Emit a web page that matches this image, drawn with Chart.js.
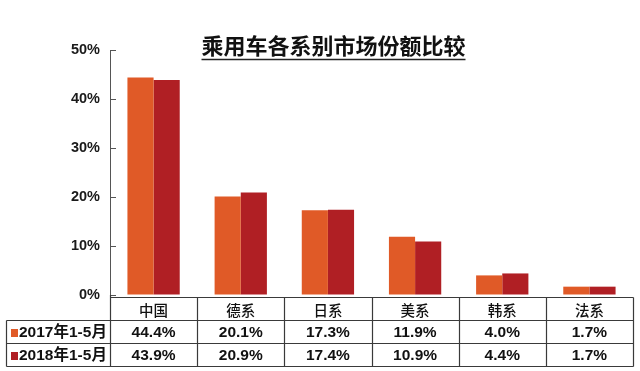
<!DOCTYPE html>
<html><head><meta charset="utf-8">
<script src="https://cdn.jsdelivr.net/npm/chart.js@4"></script>
<style>html,body{margin:0;padding:0;background:#fff}#wrap{width:640px;height:371px;position:relative}</style>
</head><body><div id="wrap"><canvas id="c"></canvas></div>
<script>
const chartTitle = '乘用车各系别市场份额比较';
const categories = ['中国','德系','日系','美系','韩系','法系'];
const seriesNames = ['2017年1-5月','2018年1-5月'];
const share2017 = [44.4,20.1,17.3,11.9,4.0,1.7];
const share2018 = [43.9,20.9,17.4,10.9,4.4,1.7];
const yTicks = [0,10,20,30,40,50];
const seriesColors = ['#E05A27','#B01F24'];

const LAT = '"Liberation Sans", Arial, "Noto Sans CJK SC", sans-serif';
const CJK = '"Noto Sans CJK SC", "Liberation Sans", sans-serif';

const tablePlugin = {
  id: 'tablePlugin',
  afterDraw(chart) {
    const ctx = chart.ctx;
    const ca = chart.chartArea;
    const xs = chart.scales.x;
    const ys = chart.scales.y;
    const n = categories.length;
    const cw = (ca.right - ca.left) / n;
    ctx.save();
    // inner ticks on y axis
    ctx.strokeStyle = '#555';
    ctx.lineWidth = 1;
    ys.ticks.forEach(t => {
      const py = Math.round(ys.getPixelForValue(t.value)) + 0.5;
      ctx.beginPath();
      ctx.moveTo(ca.left, py);
      ctx.lineTo(ca.left + 6, py);
      ctx.stroke();
    });
    // title
    ctx.font = 'bold 22px ' + CJK;
    ctx.fillStyle = '#111';
    ctx.textAlign = 'center';
    ctx.textBaseline = 'middle';
    const tcx = 333.5;
    ctx.fillText(chartTitle, tcx, 46);
    const tw = ctx.measureText(chartTitle).width;
    ctx.strokeStyle = '#222';
    ctx.lineWidth = 1.6;
    ctx.beginPath();
    ctx.moveTo(tcx - tw / 2, 59.5);
    ctx.lineTo(tcx + tw / 2, 59.5);
    ctx.stroke();

    // table
    const y0 = 297.5, y1 = 320.5, y2 = 343.5, y3 = 366.5;
    const tl = 6.5;
    const L = Math.round(ca.left) + 0.5;
    const R = Math.round(ca.right) + 0.5;
    ctx.strokeStyle = '#3a3a3a';
    ctx.lineWidth = 1.2;
    ctx.beginPath();
    ctx.moveTo(L, y0); ctx.lineTo(R, y0);
    ctx.moveTo(tl, y1); ctx.lineTo(R, y1);
    ctx.moveTo(tl, y2); ctx.lineTo(R, y2);
    ctx.moveTo(tl, y3); ctx.lineTo(R, y3);
    ctx.moveTo(tl, y1); ctx.lineTo(tl, y3);
    ctx.moveTo(L, ca.bottom); ctx.lineTo(L, y3);
    for (let i = 0; i < n; i++) {
      const bx = Math.round(xs.getPixelForValue(i) + cw / 2) + 0.5;
      ctx.moveTo(bx, y0); ctx.lineTo(bx, y3);
    }
    ctx.stroke();

    ctx.fillStyle = '#111';
    ctx.textAlign = 'center';
    ctx.textBaseline = 'middle';
    categories.forEach((c, i) => {
      ctx.font = '500 14.5px ' + CJK;
      ctx.fillText(c, xs.getPixelForValue(i), (y0 + y1) / 2 + 1);
    });
    const rows = [share2017, share2018];
    const rowY = [(y1 + y2) / 2 + 1, (y2 + y3) / 2 + 1];
    rows.forEach((arr, r) => {
      ctx.font = 'bold 15.5px ' + LAT;
      ctx.textAlign = 'center';
      arr.forEach((v, i) => {
        ctx.fillText(v.toFixed(1) + '%', xs.getPixelForValue(i), rowY[r]);
      });
      ctx.fillStyle = seriesColors[r];
      ctx.fillRect(11, rowY[r] - 4, 7, 8);
      ctx.fillStyle = '#111';
      ctx.textAlign = 'left';
      ctx.font = 'bold 15.5px ' + LAT;
      ctx.fillText(seriesNames[r], 19, rowY[r]);
    });
    ctx.restore();
  }
};

new Chart(document.getElementById('c'), {
  type: 'bar',
  data: {
    labels: categories,
    datasets: [
      { label: seriesNames[0], data: share2017, backgroundColor: seriesColors[0], categoryPercentage: 0.6, barPercentage: 1.0 },
      { label: seriesNames[1], data: share2018, backgroundColor: seriesColors[1], categoryPercentage: 0.6, barPercentage: 1.0 }
    ]
  },
  options: {
    responsive: true,
    maintainAspectRatio: false,
    animation: false,
    layout: { padding: { top: 50, right: 7, bottom: 76, left: 0 } },
    plugins: { legend: { display: false }, tooltip: { enabled: false }, title: { display: false } },
    scales: {
      x: { display: false },
      y: {
        min: 0, max: 50,
        afterBuildTicks: s => { s.ticks = yTicks.map(v => ({ value: v })); },
        afterFit: s => { s.width = 110; },
        ticks: { callback: v => v + '%', font: { family: LAT, size: 14.5, weight: 'bold' }, color: '#1a1a1a', padding: 10 },
        grid: { display: true, drawOnChartArea: false, drawTicks: false },
        border: { display: true, color: '#555', width: 1 }
      }
    }
  },
  plugins: [tablePlugin]
});
</script>
</body></html>
